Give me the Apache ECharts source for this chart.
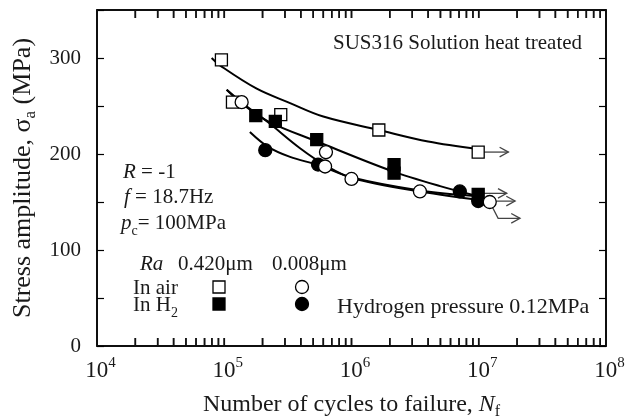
<!DOCTYPE html>
<html><head><meta charset="utf-8">
<script src="https://cdn.jsdelivr.net/npm/echarts@6/dist/echarts.min.js"></script>
<style>html,body{margin:0;padding:0;background:#fff}#c{width:632px;height:419px}</style>
</head><body><div id="c"></div>
<script>
const FONT = 'Liberation Serif';

// ---- axis ticks ----
const decades = [1e4, 1e5, 1e6, 1e7];
const minorMultipliers = [1, 2, 3, 4, 5, 6, 7, 8, 9];
const yLabelValues = [0, 100, 200, 300];

// ---- measured points (Nf, stress amplitude MPa) ----
const airRough   = [[9.5e4,298],[1.16e5,254],[2.78e5,241],[1.64e6,225],[9.9e6,202]];
const h2Rough    = [[1.77e5,240],[2.52e5,234],[5.33e5,215],[2.16e6,189],[2.16e6,180],[9.9e6,158]];
const h2Smooth   = [[2.1e5,204],[5.46e5,189],[7.1e6,161],[9.9e6,151]];
const airSmooth  = [[1.37e5,254],[6.3e5,202],[6.2e5,187],[1.0e6,174],[3.45e6,161],[1.22e7,150]];

// ---- fitted S-N curves ----
const curveAirRough  = [[7.96e4,300],[9.55e4,291],[1.8e5,268],[3.29e5,253],[6.0e5,239],[1.64e6,225],[4.0e6,213],[9.9e6,205]];
const curveH2Rough   = [[1.045e5,267],[1.455e5,250],[2.29e5,233],[5.26e5,213.5],[2.01e6,183],[4.97e6,166.5],[9.9e6,156]];
const curveAirSmooth = [[1.045e5,267],[1.59e5,247],[2.21e5,233],[3.94e5,206],[6.19e5,188.5],[1.01e6,175],[3.45e6,161],[1.2e7,151]];
const curveH2Smooth  = [[1.59e5,223],[2.21e5,207.5],[3.29e5,197],[5.46e5,188.5],[1.01e6,175.5],[3.45e6,162],[9.9e6,156]];

// ---- run-out arrows ----
const runouts = [
  [[9.9e6,202],[1.71e7,202]],
  [[9.9e6,159],[1.66e7,159]],
  [[9.9e6,151],[1.93e7,151]],
  [[1.22e7,150],[1.42e7,133],[2.11e7,133]]
];

const xTicks = [];
decades.forEach(d => minorMultipliers.forEach(m => xTicks.push(d * m)));
xTicks.push(1e8);
const Y_MIN = 0, Y_MAX = 350;

const TXT = '#1a1a1a';
function rich(size) {
  return {
    i: {fontStyle: 'italic', fontFamily: FONT, fontSize: size, lineHeight: 30, color: TXT},
    b: {fontFamily: FONT, fontSize: size, lineHeight: 30, color: TXT},
    sub: {fontFamily: FONT, fontSize: Math.round(size * 0.66), lineHeight: 30, verticalAlign: 'bottom', color: TXT}
  };
}
function txt(x, y, text, size) {
  return {type: 'text', x: x, y: y, z: 50,
    style: {text: text, fontFamily: FONT, fontSize: size, fill: TXT, verticalAlign: 'middle', rich: rich(size)}};
}

const chart = echarts.init(document.getElementById('c'), null, {renderer: 'canvas'});

const axisLineStyle = {show: true, onZero: false, lineStyle: {color: '#000', width: 1.5}};
const yTickStyle = {show: true, inside: true, length: 7, lineStyle: {color: '#000', width: 1.2}};

const scatterStyle = (fill) => ({color: fill, borderColor: '#000', borderWidth: 1.3, opacity: 1});
const curveSeries = (d) => ({type: 'line', data: d, smooth: 0.35, showSymbol: false,
  symbol: 'none', lineStyle: {color: '#000', width: 2}, z: 3, silent: true});
const tickSeries = (yVal, offset) => ({type: 'scatter', data: xTicks.map(v => [v, yVal]), symbol: 'rect',
  symbolSize: [1.6, 8], symbolOffset: [0, offset], itemStyle: {color: '#111', borderWidth: 0},
  clip: false, silent: true, z: 9});

function baseGraphics() {
  return [
    txt(333, 43, '{b|SUS316 Solution heat treated}', 21),
    txt(123, 172, '{i|R}{b| = -1}', 21),
    txt(124, 197, '{i|f}{b| = 18.7Hz}', 21),
    txt(121, 223, '{i|p}{sub|c}{b|= 100MPa}', 21),
    txt(140, 264, '{i|Ra}', 21),
    txt(178, 264, '{b|0.420μm}', 21),
    txt(272, 264, '{b|0.008μm}', 21),
    txt(133, 288, '{b|In air}', 21),
    txt(133, 305, '{b|In H}{sub|2}', 21),
    txt(337, 307, '{b|Hydrogen pressure 0.12MPa}', 22),
    {type: 'rect', z: 50, shape: {x: 213, y: 281, width: 12, height: 12}, style: {fill: '#fff', stroke: '#000', lineWidth: 1.3}},
    {type: 'circle', z: 50, shape: {cx: 302, cy: 287, r: 6.5}, style: {fill: '#fff', stroke: '#000', lineWidth: 1.3}},
    {type: 'rect', z: 50, shape: {x: 213, y: 298, width: 12, height: 12}, style: {fill: '#000', stroke: '#000', lineWidth: 1.3}},
    {type: 'circle', z: 50, shape: {cx: 302, cy: 304, r: 6.5}, style: {fill: '#000', stroke: '#000', lineWidth: 1.3}}
  ];
}

chart.setOption({
  animation: false,
  backgroundColor: '#fff',
  grid: {left: 97, right: 26, top: 10, bottom: 73, containLabel: false, outerBoundsMode: 'none',
    show: true, borderColor: '#000', borderWidth: 1.5, backgroundColor: 'transparent'},
  xAxis: [{
    type: 'log', logBase: 10, min: 1e4, max: 1e8, position: 'bottom',
    axisLine: axisLineStyle, axisTick: {show: false}, splitLine: {show: false},
    axisLabel: {margin: 10, formatter: v => '{pad|}{b|10}{sup|' + Math.round(Math.log10(v)) + '}',
      rich: {pad: {width: 7}, b: {fontFamily: FONT, fontSize: 23, color: TXT, lineHeight: 26, verticalAlign: 'bottom'},
             sup: {fontFamily: FONT, fontSize: 15, color: TXT, lineHeight: 26, verticalAlign: 'top'}}},
    name: '{b|Number of cycles to failure, }{i|N}{sub|f}', nameLocation: 'middle', nameGap: 44,
    nameTextStyle: {rich: rich(24)}
  }, {
    type: 'log', logBase: 10, min: 1e4, max: 1e8, position: 'top',
    axisLine: axisLineStyle, axisTick: {show: false}, axisLabel: {show: false}, splitLine: {show: false}
  }],
  yAxis: [{
    type: 'value', min: Y_MIN, max: Y_MAX, interval: 50, position: 'left',
    axisLine: axisLineStyle, axisTick: yTickStyle, splitLine: {show: false},
    axisLabel: {margin: 16, fontFamily: FONT, fontSize: 21, color: TXT,
      formatter: v => yLabelValues.indexOf(v) >= 0 ? String(v) : ''},
    name: '{b|Stress amplitude, σ}{sub|a}{b| (MPa)}', nameLocation: 'middle', nameGap: 55,
    nameTextStyle: {rich: rich(26)}
  }, {
    type: 'value', min: Y_MIN, max: Y_MAX, interval: 50, position: 'right',
    axisLine: axisLineStyle, axisTick: yTickStyle,
    axisLabel: {show: false}, splitLine: {show: false}
  }],
  series: [
    {type: 'custom', name: 'runouts', data: runouts.map(p => p[0]), z: 2, silent: true, clip: false,
      renderItem: (params, api) => {
        const pts = runouts[params.dataIndex].map(p => api.coord(p));
        const a = pts[pts.length - 1], b = pts[pts.length - 2];
        const ang = Math.atan2(a[1] - b[1], a[0] - b[0]);
        const L = 10, W = 0.5;
        const h1 = [a[0] - L * Math.cos(ang - W), a[1] - L * Math.sin(ang - W)];
        const h2 = [a[0] - L * Math.cos(ang + W), a[1] - L * Math.sin(ang + W)];
        const st = {stroke: '#444', lineWidth: 1.3, fill: null};
        return {type: 'group', children: [
          {type: 'polyline', shape: {points: pts}, style: st},
          {type: 'polyline', shape: {points: [h1, a, h2]}, style: st}
        ]};
      }},
    curveSeries(curveAirRough),
    curveSeries(curveH2Rough),
    curveSeries(curveAirSmooth),
    curveSeries(curveH2Smooth),
    {type: 'scatter', data: airRough, symbol: 'rect', symbolSize: 12, itemStyle: scatterStyle('#fff'), z: 5},
    {type: 'scatter', data: h2Rough, symbol: 'rect', symbolSize: 12, itemStyle: scatterStyle('#000'), z: 6},
    {type: 'scatter', data: h2Smooth, symbol: 'circle', symbolSize: 13, itemStyle: scatterStyle('#000'), z: 7},
    {type: 'scatter', data: airSmooth, symbol: 'circle', symbolSize: 13, itemStyle: scatterStyle('#fff'), z: 8},
    tickSeries(Y_MIN, -4),
    tickSeries(Y_MAX, 4)
  ],
  graphic: baseGraphics()
});

// additional log-axis ticks as graphics, positioned through the axis scales
const yBottom = chart.convertToPixel({yAxisIndex: 0}, Y_MIN);
const yTop = chart.convertToPixel({yAxisIndex: 0}, Y_MAX);
const tickGraphics = [];
xTicks.forEach((v, k) => {
  const x = chart.convertToPixel({xAxisIndex: 0}, v);
  tickGraphics.push({type: 'rect', id: 'tb' + k, z: 60, shape: {x: x - 0.8, y: yBottom - 8, width: 1.6, height: 8}, style: {fill: '#111'}});
  tickGraphics.push({type: 'rect', id: 'tt' + k, z: 60, shape: {x: x - 0.8, y: yTop, width: 1.6, height: 8}, style: {fill: '#111'}});
});
chart.setOption({graphic: {elements: tickGraphics}});
</script></body></html>
